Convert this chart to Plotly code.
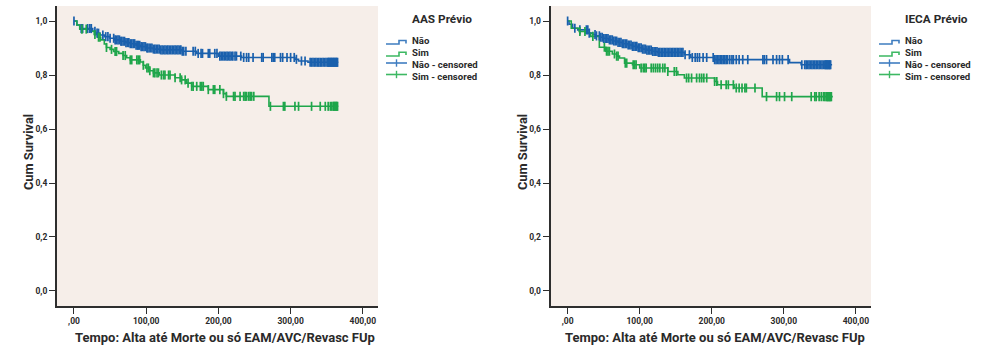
import numpy as np
import plotly.graph_objects as go

W, H = 988, 346

# ---------------- data ----------------
# Left panel: AAS Prévio
aas_nao_t = [0, 4, 8, 26, 30, 36, 42, 50, 56, 64, 72, 78, 86, 92, 100, 110, 120, 150, 170, 200, 232, 306, 311, 324, 366]
aas_nao_s = [1.0, 0.985, 0.972, 0.962, 0.955, 0.948, 0.942, 0.936, 0.930, 0.925, 0.920, 0.916, 0.910, 0.905, 0.900,
             0.896, 0.893, 0.888, 0.880, 0.870, 0.865, 0.858, 0.852, 0.847, 0.847]
aas_sim_t = [0, 4, 8, 22, 28, 33, 37, 42, 45, 50, 55, 62, 68, 73, 78, 92, 96, 99, 105, 110, 118, 140, 149, 156,
             163, 186, 207, 211, 270, 366]
aas_sim_s = [1.0, 0.985, 0.970, 0.962, 0.950, 0.940, 0.930, 0.915, 0.902, 0.895, 0.887, 0.880, 0.872, 0.864, 0.856,
             0.848, 0.836, 0.826, 0.816, 0.808, 0.800, 0.790, 0.782, 0.770, 0.758, 0.746, 0.731, 0.721, 0.684, 0.684]
aas_nao_cens = [0, 10, 12, 19, 22, 24, 29, 32, 34, 40, 44, 47, 50, 55, 57, 59, 61, 63, 65, 66, 68, 70, 72, 74, 76,
                78, 80, 82, 84, 86, 88, 89, 91, 93, 95, 97, 99, 101, 102, 104, 106, 108, 110, 112, 114, 116, 118,
                120, 122, 124, 126, 128, 130, 132, 134, 136, 138, 140, 142, 144, 146, 148, 150, 152, 155, 165, 168,
                172, 176, 178, 186, 188, 195, 198, 202, 204, 206, 208, 210, 212, 214, 216, 218, 220, 223, 225, 231,
                235, 239, 242, 248, 260, 262, 274, 276, 278, 286, 289, 295, 300, 305, 308, 315, 320, 327, 329, 331,
                333, 335, 337, 339, 341, 343, 345, 347, 349, 351, 352, 353, 354, 355, 356, 357, 358, 359, 360, 361,
                362, 363, 364, 365]
aas_sim_cens = [11, 17, 29, 34, 36, 45, 52, 57, 59, 68, 71, 78, 80, 87, 89, 91, 96, 101, 103, 105, 110, 112, 115,
                117, 121, 124, 126, 131, 133, 140, 147, 149, 154, 158, 163, 165, 170, 175, 177, 179, 186, 193, 195,
                202, 207, 211, 221, 223, 230, 235, 237, 239, 242, 244, 246, 249, 272, 290, 292, 306, 311, 329, 341,
                348, 352, 355, 357, 359, 360, 361, 362, 363, 364, 365]

# Right panel: IECA Prévio
ieca_nao_t = [0, 2, 7, 14, 30, 35, 39, 45, 50, 57, 63, 70, 76, 84, 90, 97, 104, 110, 118, 125, 162, 171, 204,
              308, 324, 367]
ieca_nao_s = [1.0, 0.988, 0.973, 0.967, 0.955, 0.950, 0.945, 0.940, 0.935, 0.930, 0.926, 0.921, 0.916, 0.911,
              0.906, 0.901, 0.896, 0.892, 0.887, 0.884, 0.875, 0.865, 0.857, 0.846, 0.838, 0.838]
ieca_sim_t = [0, 5, 16, 25, 32, 44, 53, 62, 68, 72, 79, 90, 100, 139, 153, 162, 204, 208, 231, 270, 368]
ieca_sim_s = [1.0, 0.973, 0.961, 0.955, 0.943, 0.903, 0.888, 0.878, 0.870, 0.863, 0.844, 0.838, 0.826, 0.813,
              0.801, 0.789, 0.776, 0.764, 0.752, 0.720, 0.720]
ieca_nao_cens = [0, 10, 17, 26, 28, 30, 38, 40, 44, 46, 48, 50, 52, 54, 56, 58, 60, 62, 64, 66, 68, 70, 72, 74, 76,
                 78, 80, 82, 84, 86, 88, 90, 92, 94, 96, 98, 100, 102, 104, 106, 108, 110, 112, 114, 116, 118, 120,
                 122, 124, 126, 128, 130, 132, 134, 136, 138, 140, 142, 144, 146, 148, 150, 152, 154, 156, 158, 160,
                 163, 169, 173, 177, 180, 183, 188, 193, 202, 204, 206, 208, 210, 212, 214, 216, 218, 220, 222,
                 225, 228, 230, 234, 238, 243, 250, 271, 273, 276, 285, 290, 294, 298, 306, 325, 329, 331, 333,
                 335, 337, 339, 341, 343, 345, 347, 349, 351, 353, 355, 357, 358, 359, 360, 361, 362, 363, 364, 365]
ieca_sim_cens = [17, 24, 35, 51, 54, 56, 58, 65, 68, 70, 80, 82, 91, 93, 95, 102, 105, 107, 109, 116, 119, 122,
                 125, 128, 132, 135, 139, 148, 151, 165, 168, 172, 179, 183, 186, 189, 193, 204, 207, 213, 220, 223,
                 230, 234, 238, 242, 246, 248, 260, 276, 290, 294, 301, 311, 338, 343, 345, 349, 352, 355, 357, 359,
                 360, 361, 362, 363, 364, 365, 366]

y_ticks = [0.0, 0.2, 0.4, 0.6, 0.8, 1.0]
y_tick_text = ["0,0", "0,2", "0,4", "0,6", "0,8", "1,0"]
x_ticks = [0, 100, 200, 300, 400]
x_tick_text = [",00", "100,00", "200,00", "300,00", "400,00"]

panels = [
    dict(title="AAS Prévio", nao=(aas_nao_t, aas_nao_s, aas_nao_cens), sim=(aas_sim_t, aas_sim_s, aas_sim_cens)),
    dict(title="IECA Prévio", nao=(ieca_nao_t, ieca_nao_s, ieca_nao_cens), sim=(ieca_sim_t, ieca_sim_s, ieca_sim_cens)),
]

# ---------------- styling ----------------
BLUE = "#1A60AD"
GREEN = "#1FA64B"
BLUE_LEG = "#3F7DC0"
GREEN_LEG = "#3DB863"
BG = "#F6EEE9"
TXT = "#2A2A2A"
FONT = "Roboto"

def px(x):
    return x / W

def py(y):
    return 1 - y / H

def step_at(times, levels, t):
    idx = np.searchsorted(np.asarray(times), np.asarray(t, dtype=float), side="right") - 1
    return np.asarray(levels)[idx]

fig = go.Figure()

plot_x_domains = [(57, 378), (550.7, 871)]
for i, p in enumerate(panels):
    xa = "x" if i == 0 else "x2"
    ya = "y" if i == 0 else "y2"
    for key, col in (("nao", BLUE), ("sim", GREEN)):
        t, s, c = p[key]
        fig.add_trace(go.Scatter(x=t, y=s, mode="lines", line=dict(color=col, width=1.6, shape="hv"),
                                 xaxis=xa, yaxis=ya, showlegend=False, hoverinfo="skip"))
    for key, col in (("nao", BLUE), ("sim", GREEN)):
        t, s, c = p[key]
        fig.add_trace(go.Scatter(x=c, y=step_at(t, s, c), mode="markers",
                                 marker=dict(symbol="line-ns-open", size=6.5, color=col,
                                             line=dict(color=col, width=1.7)),
                                 xaxis=xa, yaxis=ya, showlegend=False, hoverinfo="skip"))

ydom = [1 - 306 / H, 1 - 6 / H]
axis_common = dict(showgrid=False, zeroline=False, showline=True, linecolor="#2E2E2E", linewidth=2,
                   ticks="outside", ticklen=6, tickwidth=1.3, tickcolor="#2E2E2E",
                   tickfont=dict(family=FONT, size=8.5, color=TXT, weight="bold"), mirror=False)
layout = dict(width=W, height=H, margin=dict(l=0, r=0, t=0, b=0), paper_bgcolor="white",
              plot_bgcolor=BG, showlegend=False)
for i in range(2):
    sx = "" if i == 0 else "2"
    d = plot_x_domains[i]
    layout["xaxis" + sx] = dict(domain=[px(d[0]), px(d[1])], range=[-23.5, 421], tickvals=x_ticks,
                                ticktext=x_tick_text, anchor="y" + sx, **axis_common)
    layout["yaxis" + sx] = dict(domain=ydom, range=[-0.0556, 1.0556], tickvals=y_ticks,
                                ticktext=y_tick_text, anchor="x" + sx, **axis_common)
fig.update_layout(**layout)

annotations = []
shapes = []
for i, p in enumerate(panels):
    off = 0 if i == 0 else 493
    # axis titles
    annotations.append(dict(text="Cum Survival", x=px(28 + (494 if i else 0)), y=py(152), xref="paper",
                            yref="paper", showarrow=False, textangle=-90, xanchor="center", yanchor="middle",
                            font=dict(family=FONT, size=12.8, color=TXT, weight="bold")))
    annotations.append(dict(text="Tempo: Alta até Morte ou só EAM/AVC/Revasc FUp", x=px(224.5 + (490 if i else 0)),
                            y=py(337), xref="paper", yref="paper", showarrow=False, xanchor="center",
                            yanchor="middle", font=dict(family=FONT, size=13, color=TXT, weight="bold")))
    # legend title
    annotations.append(dict(text=p["title"], x=px(410 + off), y=py(19), xref="paper", yref="paper",
                            showarrow=False, xanchor="left", yanchor="middle",
                            font=dict(family=FONT, size=11.8, color=TXT, weight="bold")))
    labels = [("Não", 41), ("Sim", 53), ("Não - censored", 64), ("Sim - censored", 76)]
    for lab, yy in labels:
        annotations.append(dict(text=lab, x=px(410 + off), y=py(yy), xref="paper", yref="paper",
                                showarrow=False, xanchor="left", yanchor="middle",
                                font=dict(family=FONT, size=9.6, color=TXT, weight="bold")))
    x0, xm, x1 = 386 + off, 399 + off, 406 + off
    for (yb, yt, ye, col) in ((44, 40.5, 43.5, BLUE_LEG), (56, 52.3, 55, GREEN_LEG)):
        path = "M {} {} L {} {} L {} {} L {} {} L {} {}".format(
            px(x0), py(yb), px(xm), py(yb), px(xm), py(yt), px(x1), py(yt), px(x1), py(ye))
        shapes.append(dict(type="path", path=path, xref="paper", yref="paper",
                           line=dict(color=col, width=1.6)))
    for (yc, col) in ((63, BLUE_LEG), (74.5, GREEN_LEG)):
        shapes.append(dict(type="line", x0=px(x0), x1=px(x1 + 1), y0=py(yc), y1=py(yc), xref="paper",
                           yref="paper", line=dict(color=col, width=1.6)))
        shapes.append(dict(type="line", x0=px(396.5 + off), x1=px(396.5 + off), y0=py(yc - 3.7),
                           y1=py(yc + 3.7), xref="paper", yref="paper", line=dict(color=col, width=1.4)))

fig.update_layout(annotations=annotations, shapes=shapes)
fig.write_html("out.html")
